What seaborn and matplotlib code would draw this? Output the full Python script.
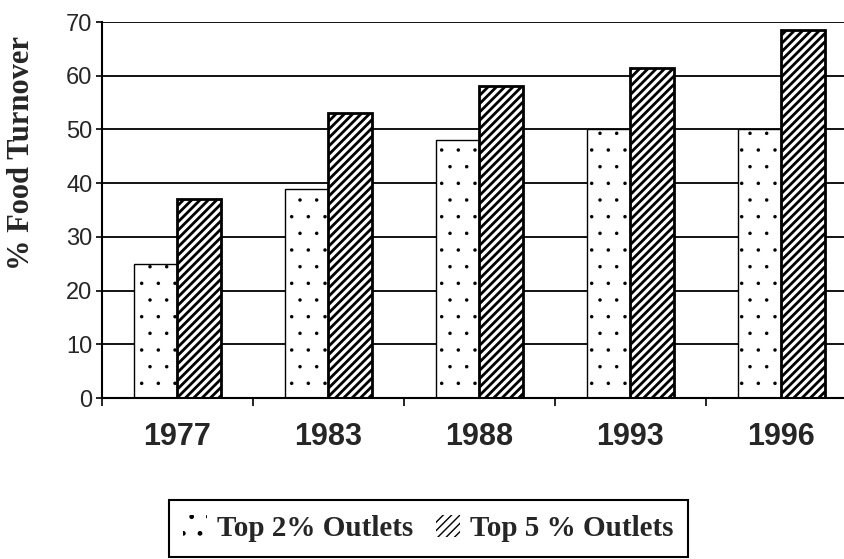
import pandas as pd
import matplotlib
matplotlib.use("Agg")
import matplotlib.pyplot as plt
import matplotlib.font_manager as fm
from matplotlib.patches import Patch
import seaborn as sns

# ── Data ──────────────────────────────────────────────────────────────────────
years      = ["1977", "1983", "1988", "1993", "1996"]
top2_share = [25, 39, 48, 50, 50]
top5_share = [37, 53, 58, 61.5, 68.5]
series     = ["Top 2% Outlets", "Top 5 % Outlets"]
y_ticks    = [0, 10, 20, 30, 40, 50, 60, 70]

df = pd.DataFrame({
    "year":   years * 2,
    "share":  top2_share + top5_share,
    "series": [series[0]] * len(years) + [series[1]] * len(years),
})

# ── Style ──────────────────────────────────────────────────────────────────────
sns.set_style("white")
installed = {f.name for f in fm.fontManager.ttflist}
narrow = "Liberation Sans Narrow" in installed
SANS  = "Liberation Sans Narrow" if narrow else "Liberation Sans"
SERIF = "Liberation Serif"
plt.rcParams["font.family"] = [SANS, "DejaVu Sans"]

fig = plt.figure(figsize=(8.45, 5.59), dpi=100)
ax = fig.add_axes([0.1207, 0.288, 0.8935, 0.6726])

sns.barplot(data=df, x="year", y="share", hue="series", order=years,
            hue_order=series, width=0.58, legend=False, ax=ax)

# sparse dotted white bars for top 2%, dense diagonal hatch for top 5%
for bar in ax.containers[0]:
    bar.set_facecolor("white")
    bar.set_edgecolor("black")
    bar.set_hatch(".")
    bar.set_hatch_linewidth(0.1)
    bar.set_linewidth(1.0)
for bar in ax.containers[1]:
    bar.set_facecolor("white")
    bar.set_edgecolor("black")
    bar.set_hatch("////")
    bar.set_hatch_linewidth(2.0)
    bar.set_linewidth(2.0)

ax.set_ylim(0, 70)
ax.set_xlim(-0.5, 4.5)
ax.set_yticks(y_ticks)
ax.set_axisbelow(True)
ax.yaxis.grid(True, color="black", lw=1.3)
ax.xaxis.grid(False)

for side in ["top", "right"]:
    ax.spines[side].set_visible(False)
for side in ["left", "bottom"]:
    ax.spines[side].set_color("black")
    ax.spines[side].set_linewidth(1.5)

ax.set_xlabel("")
ax.set_ylabel("")

# y ticks
ax.tick_params(axis="y", direction="out", length=4.5, width=1.2,
               color="black", pad=2.5, left=True,
               labelsize=18 if narrow else 17)

# x ticks: labels at group centres, tick marks at group borders
ax.tick_params(axis="x", which="major", length=0, pad=17,
               labelsize=24 if narrow else 22)
ax.set_xticks([i - 0.5 for i in range(len(years) + 1)], minor=True)
ax.tick_params(axis="x", which="minor", direction="out", length=6,
               width=1.2, color="black", bottom=True)
for lbl in ax.get_xticklabels():
    lbl.set_fontweight("bold")

fig.text(0.026, 0.727, "% Food Turnover", rotation=90, ha="center",
         va="center", fontsize=22, fontweight="bold", family=SERIF)

# ── Legend ────────────────────────────────────────────────────────────────────
h_top2 = Patch(facecolor="white", edgecolor="black", hatch=".", lw=0)
h_top2.set_hatch_linewidth(0.1)
h_top5 = Patch(facecolor="white", edgecolor="black", hatch="////", lw=0)
h_top5.set_hatch_linewidth(2.0)
leg = fig.legend([h_top2, h_top5], series, loc="center", ncol=2,
                 bbox_to_anchor=(0.507, 0.0546), frameon=True,
                 fancybox=False, edgecolor="black", framealpha=1,
                 handlelength=0.8, handleheight=0.8, handletextpad=0.35,
                 columnspacing=0.8, borderpad=0.5,
                 prop={"family": SERIF, "weight": "bold", "size": 21})
leg.get_frame().set_linewidth(1.5)

plt.savefig("out.png", dpi=100)
plt.close()
